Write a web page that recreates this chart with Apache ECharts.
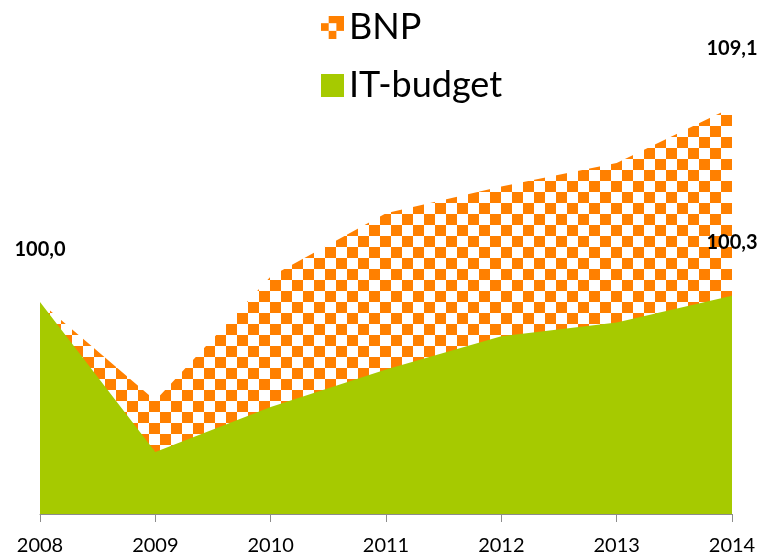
<!DOCTYPE html>
<html>
<head>
<meta charset="utf-8">
<script src="https://cdn.jsdelivr.net/npm/echarts@6/dist/echarts.min.js"></script>
<style>
html,body{margin:0;padding:0;background:#fff;}
#chart{width:763px;height:558px;}
</style>
</head>
<body>
<div id="chart"></div>
<script>
// ---- data ----
var years = ['2008', '2009', '2010', '2011', '2012', '2013', '2014'];
var bnpValues = [100.0, 95.4, 101.2, 104.15, 105.4, 106.5, 109.1];
var itValues = [100.0, 93.0, 95.1, 96.85, 98.4, 99.05, 100.3];
var seriesNames = ['BNP', 'IT-budget'];

var ORANGE = '#FF8000';
var GREEN = '#A6CA00';

function fmt(v) { return v.toFixed(1).replace('.', ','); }

// checkered pattern tile (global phase)
function makeChecker(cell, ox, oy) {
  var c = document.createElement('canvas');
  c.width = cell * 2; c.height = cell * 2;
  var ctx = c.getContext('2d');
  ctx.fillStyle = '#ffffff';
  ctx.fillRect(0, 0, c.width, c.height);
  ctx.fillStyle = ORANGE;
  for (var y = 0; y < c.height; y++) {
    for (var x = 0; x < c.width; x++) {
      var cx = Math.floor((x - ox + 4 * cell) / cell);
      var cy = Math.floor((y - oy + 4 * cell) / cell);
      if ((cx + cy) % 2 === 1) ctx.fillRect(x, y, 1, 1);
    }
  }
  return c;
}
var checker = makeChecker(11, 6, 5);

function iconBNP() {
  var c = document.createElement('canvas');
  c.width = 24; c.height = 24;
  var ctx = c.getContext('2d');
  ctx.fillStyle = '#ffffff';
  ctx.fillRect(0, 0, 24, 24);
  ctx.fillStyle = ORANGE;
  var s = 8;
  var cells = [[1,0],[2,0],[0,1],[2,1],[1,2]];
  cells.forEach(function (p) { ctx.fillRect(p[0] * s, p[1] * s, s, s); });
  return c.toDataURL();
}
function iconIT() {
  var c = document.createElement('canvas');
  c.width = 24; c.height = 24;
  var ctx = c.getContext('2d');
  ctx.fillStyle = GREEN;
  ctx.fillRect(0, 0, 24, 24);
  return c.toDataURL();
}

var labelBase = {
  show: true, position: 'inside', color: '#000', fontFamily: 'Lato',
  fontWeight: 'bold', fontSize: 20, formatter: function (p) { return fmt(p.value); }
};

function buildData(values, labels) {
  return values.map(function (v, i) {
    var d = { value: v };
    if (labels[i] !== undefined) {
      d.label = Object.assign({}, labelBase, { offset: [0, labels[i]] });
    }
    return d;
  });
}

var bnpData = buildData(bnpValues, { 6: -59 });
var itData = buildData(itValues, { 0: -53, 6: -53 });

var chart = echarts.init(document.getElementById('chart'));
chart.setOption({
  animation: false,
  backgroundColor: '#fff',
  textStyle: { fontFamily: 'Lato' },
  legend: {
    orient: 'vertical',
    left: 316, top: 4,
    itemWidth: 23, itemHeight: 23,
    itemGap: 22,
    textStyle: { fontSize: 36, lineHeight: 36, color: '#000', fontFamily: 'Lato' },
    data: [
      { name: seriesNames[0], icon: 'image://' + iconBNP() },
      { name: seriesNames[1], icon: 'image://' + iconIT() }
    ]
  },
  grid: { left: 40, right: 31, top: 88, bottom: 44, containLabel: false },
  xAxis: {
    type: 'category', data: years, boundaryGap: false,
    axisLine: { lineStyle: { color: '#8c8c8c', width: 1 } },
    axisTick: { show: true, length: 8, lineStyle: { color: '#8c8c8c' } },
    axisLabel: { color: '#000', fontSize: 20, fontFamily: 'Lato', margin: 22 },
    splitLine: { show: false }
  },
  yAxis: {
    type: 'value', min: 90.1, max: 110, show: false,
    splitLine: { show: false }
  },
  series: [
    {
      name: seriesNames[0], type: 'line', data: bnpData,
      symbol: 'circle', symbolSize: 1, showSymbol: true,
      itemStyle: { color: 'rgba(0,0,0,0)' },
      lineStyle: { width: 0 },
      areaStyle: { color: { image: checker, repeat: 'repeat' }, opacity: 1 },
      z: 2
    },
    {
      name: seriesNames[1], type: 'line', data: itData,
      symbol: 'circle', symbolSize: 1, showSymbol: true,
      itemStyle: { color: 'rgba(0,0,0,0)' },
      lineStyle: { width: 0 },
      areaStyle: { color: GREEN, opacity: 1 },
      z: 3
    }
  ]
});
</script>
</body>
</html>
